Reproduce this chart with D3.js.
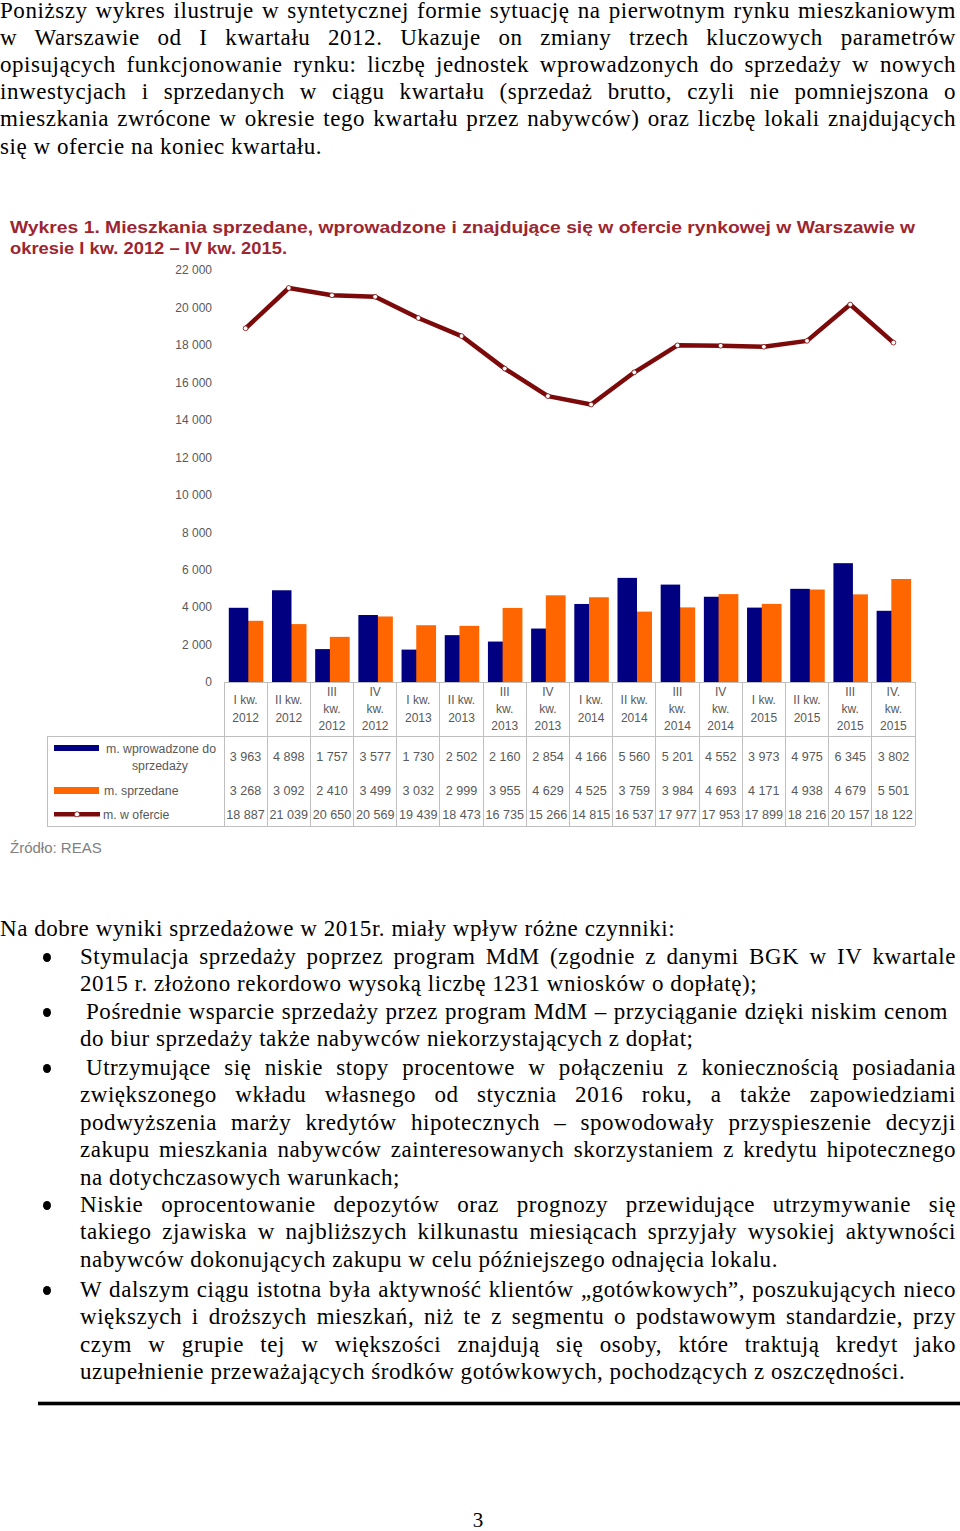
<!DOCTYPE html>
<html lang="pl">
<head>
<meta charset="utf-8">
<script src="https://cdn.jsdelivr.net/npm/d3@7"></script>
<style>
  html, body { margin: 0; padding: 0; background: #fff; }
  body { width: 960px; height: 1531px; position: relative; overflow: hidden; }
  #chart { position: absolute; left: 0; top: 0; }
  .ln { position: absolute; font-family: "Liberation Serif", "Times New Roman", serif; font-size: 23px;
        letter-spacing: 0.55px; line-height: 27px; height: 27px; color: #000; white-space: pre; }
  .ln.j { text-align: justify; text-align-last: justify; white-space: normal; }
  .bullet { position: absolute; width: 8px; height: 9px; border-radius: 50%; background: #000; }
</style>
</head>
<body>
<svg id="chart" width="960" height="1531"></svg>
<script>
// ---------------- DATA ----------------
const categories = ["I kw.\n2012","II kw.\n2012","III\nkw.\n2012","IV\nkw.\n2012",
                    "I kw.\n2013","II kw.\n2013","III\nkw.\n2013","IV\nkw.\n2013",
                    "I kw.\n2014","II kw.\n2014","III\nkw.\n2014","IV\nkw.\n2014",
                    "I kw.\n2015","II kw.\n2015","III\nkw.\n2015","IV.\nkw.\n2015"];
const introduced = [3963,4898,1757,3577,1730,2502,2160,2854,4166,5560,5201,4552,3973,4975,6345,3802];
const sold       = [3268,3092,2410,3499,3032,2999,3955,4629,4525,3759,3984,4693,4171,4938,4679,5501];
const offer      = [18887,21039,20650,20569,19439,18473,16735,15266,14815,16537,17977,17953,17899,18216,20157,18122];
const yTicks     = [0,2000,4000,6000,8000,10000,12000,14000,16000,18000,20000,22000];
const seriesNames = ["m. wprowadzone do\nsprzedaży", "m. sprzedane", "m. w ofercie"];
const titleLines = ["Wykres 1. Mieszkania sprzedane, wprowadzone i znajdujące się w ofercie rynkowej w Warszawie w",
                    "okresie I kw. 2012 – IV kw. 2015."];
const sourceText = "Źródło: REAS";

// ---------------- PAGE TEXT ----------------
const para1 = [
  "Poniższy wykres ilustruje w syntetycznej formie sytuację na pierwotnym rynku mieszkaniowym",
  "w Warszawie od I kwartału 2012. Ukazuje on zmiany trzech kluczowych parametrów",
  "opisujących funkcjonowanie rynku: liczbę jednostek wprowadzonych do sprzedaży w nowych",
  "inwestycjach i sprzedanych w ciągu kwartału (sprzedaż brutto, czyli nie pomniejszona o",
  "mieszkania zwrócone w okresie tego kwartału przez nabywców) oraz liczbę lokali znajdujących",
  "się w ofercie na koniec kwartału."
];
const intro2 = "Na dobre wyniki sprzedażowe w 2015r. miały wpływ różne czynniki:";
const bullets = [
  {y: 957, lines: ["Stymulacja sprzedaży poprzez program MdM (zgodnie z danymi BGK w IV kwartale",
                   "2015 r. złożono rekordowo wysoką liczbę 1231 wniosków o dopłatę);"]},
  {y: 1012, indent: 6, right: 948, lines: ["Pośrednie wsparcie sprzedaży przez program MdM – przyciąganie dzięki niskim cenom",
                   "do biur sprzedaży także nabywców niekorzystających z dopłat;"]},
  {y: 1068, indent: 6, lines: ["Utrzymujące się niskie stopy procentowe w połączeniu z koniecznością posiadania",
                   "zwiększonego wkładu własnego od stycznia 2016 roku, a także zapowiedziami",
                   "podwyższenia marży kredytów hipotecznych – spowodowały przyspieszenie decyzji",
                   "zakupu mieszkania nabywców zainteresowanych skorzystaniem z kredytu hipotecznego",
                   "na dotychczasowych warunkach;"]},
  {y: 1205, lines: ["Niskie oprocentowanie depozytów oraz prognozy przewidujące utrzymywanie się",
                   "takiego zjawiska w najbliższych kilkunastu miesiącach sprzyjały wysokiej aktywności",
                   "nabywców dokonujących zakupu w celu późniejszego odnajęcia lokalu."]},
  {y: 1290, lines: ["W dalszym ciągu istotna była aktywność klientów „gotówkowych”, poszukujących nieco",
                   "większych i droższych mieszkań, niż te z segmentu o podstawowym standardzie, przy",
                   "czym w grupie tej w większości znajdują się osoby, które traktują kredyt jako",
                   "uzupełnienie przeważających środków gotówkowych, pochodzących z oszczędności."]}
];

function addLine(text, x, yc, right, justify) {
  const d = document.createElement("div");
  d.className = "ln" + (justify ? " j" : "");
  d.textContent = text;
  d.style.left = x + "px";
  d.style.top = (yc - 14) + "px";
  if (justify) d.style.width = (right - x) + "px";
  document.body.appendChild(d);
}
para1.forEach((t, i) => addLine(t, 0, 11 + i * 27.1, 956, i < para1.length - 1));
addLine(intro2, 0, 929, 956, false);
bullets.forEach(b => {
  const dot = document.createElement("div");
  dot.className = "bullet";
  dot.style.left = "43px"; dot.style.top = (b.y - 4) + "px";
  document.body.appendChild(dot);
  b.lines.forEach((t, i) => {
    const x = (i === 0 && b.indent) ? 80 + b.indent : 80;
    const right = (i === 0 && b.right) ? b.right : 956;
    addLine(t, x, b.y + i * 27.45, right, i < b.lines.length - 1);
  });
});

// ---------------- CHART ----------------
const svg = d3.select("#chart");
const grey = "#595959";
const blue = "#000080", orange = "#ff6600", maroon = "#7d0a0a";
const fmt = d3.formatLocale({decimal: ",", thousands: " ", grouping: [3], currency: ["", ""]}).format(",d");

// title
const title = svg.append("g").attr("font-family", "'Liberation Sans Narrow','Arial Narrow','Liberation Sans',Arial,sans-serif")
  .attr("font-weight", "bold").attr("font-size", 17).attr("fill", "#9c2630");
title.append("text").attr("x", 10).attr("y", 233).attr("textLength", 905).attr("lengthAdjust", "spacingAndGlyphs").text(titleLines[0]);
title.append("text").attr("x", 10).attr("y", 254).attr("textLength", 277).attr("lengthAdjust", "spacingAndGlyphs").text(titleLines[1]);

const x = d3.scaleBand().domain(categories).range([224, 915]).padding(0);
const y = d3.scaleLinear().domain([0, 22000]).range([682, 270]);
const bw = x.bandwidth();

// y axis
const yAxis = svg.append("g").attr("transform", "translate(212,0)")
  .call(d3.axisLeft(y).tickValues(yTicks).tickFormat(fmt).tickSize(0).tickPadding(0));
yAxis.select(".domain").remove();
yAxis.selectAll("text").attr("font-family", "'Liberation Sans',Arial,sans-serif").attr("font-size", 12).attr("fill", grey);

// bars (taller bar drawn on top)
const barData = categories.map((c, i) => ({c, a: introduced[i], b: sold[i]}));
const groups = svg.append("g").selectAll("g").data(barData).join("g");
groups.each(function(d) {
  const g = d3.select(this);
  const bars = [
    {v: d.a, fill: blue, dx: 4.8, w: 19.5},
    {v: d.b, fill: orange, dx: 19.5, w: 19.8}
  ].sort((p, q) => p.v - q.v);
  g.selectAll("rect").data(bars).join("rect")
    .attr("x", b => x(d.c) + b.dx).attr("width", b => b.w)
    .attr("y", b => y(b.v)).attr("height", b => y(0) - y(b.v))
    .attr("fill", b => b.fill);
});

// line
const line = d3.line().x((d, i) => x(categories[i]) + bw / 2).y(d => y(d));
svg.append("path").datum(offer).attr("d", line).attr("fill", "none")
  .attr("stroke", maroon).attr("stroke-width", 4.5).attr("stroke-linejoin", "round");
svg.append("g").selectAll("circle").data(offer).join("circle")
  .attr("cx", (d, i) => x(categories[i]) + bw / 2).attr("cy", d => y(d)).attr("r", 2.4)
  .attr("fill", "#fff").attr("stroke", maroon).attr("stroke-width", 0.8);

// table grid
const tableTop = 682, headBottom = 736.7, tableBottom = 826, tableLeft = 47;
const gridC = "#bfbfbf";
const grid = svg.append("g").attr("stroke", gridC).attr("stroke-width", 1).attr("shape-rendering", "crispEdges");
const bounds = categories.map(c => x(c)).concat([x.range()[1]]);
grid.selectAll("line.v").data(bounds).join("line").attr("class", "v")
  .attr("x1", d => d).attr("x2", d => d).attr("y1", tableTop).attr("y2", tableBottom);
grid.append("line").attr("x1", x.range()[0]).attr("x2", x.range()[1]).attr("y1", tableTop).attr("y2", tableTop);
grid.append("line").attr("x1", tableLeft).attr("x2", x.range()[1]).attr("y1", headBottom).attr("y2", headBottom);
grid.append("line").attr("x1", tableLeft).attr("x2", x.range()[1]).attr("y1", tableBottom).attr("y2", tableBottom);
grid.append("line").attr("x1", tableLeft).attr("x2", tableLeft).attr("y1", headBottom).attr("y2", tableBottom);

// category labels
const catG = svg.append("g").attr("font-family", "'Liberation Sans',Arial,sans-serif").attr("font-size", 12)
  .attr("fill", grey).attr("text-anchor", "middle");
categories.forEach(c => {
  const parts = c.split("\n");
  const t = catG.append("text").attr("x", x(c) + bw / 2);
  parts.forEach((p, k) => {
    t.append("tspan").attr("x", x(c) + bw / 2)
      .attr("y", 709 + (k - (parts.length - 1) / 2) * 17.3 + 4).text(p);
  });
});

// data rows
const rows = [introduced, sold, offer];
const rowY = [756.7, 790, 814.3];
const valG = svg.append("g").attr("font-family", "'Liberation Sans',Arial,sans-serif").attr("font-size", 12.6)
  .attr("fill", grey).attr("text-anchor", "middle");
rows.forEach((r, ri) => {
  valG.selectAll("text.r" + ri).data(r).join("text").attr("class", "r" + ri)
    .attr("x", (d, i) => x(categories[i]) + bw / 2).attr("y", rowY[ri] + 4.5).text(d => fmt(d));
});

// legend inside table
const lg = svg.append("g").attr("font-family", "'Liberation Sans',Arial,sans-serif").attr("font-size", 12.3).attr("fill", grey);
lg.append("rect").attr("x", 54).attr("y", 745).attr("width", 45).attr("height", 6).attr("fill", blue);
lg.append("rect").attr("x", 54).attr("y", 787).attr("width", 45).attr("height", 7).attr("fill", orange);
lg.append("line").attr("x1", 54).attr("x2", 100).attr("y1", 814.3).attr("y2", 814.3).attr("stroke", maroon).attr("stroke-width", 4.5);
lg.append("circle").attr("cx", 77).attr("cy", 814.3).attr("r", 2.6).attr("fill", "#fff").attr("stroke", maroon).attr("stroke-width", 0.8);
const n0 = seriesNames[0].split("\n");
lg.append("text").attr("x", 161).attr("y", 752.5).attr("text-anchor", "middle").text(n0[0]);
lg.append("text").attr("x", 160).attr("y", 769.5).attr("text-anchor", "middle").text(n0[1]);
lg.append("text").attr("x", 104).attr("y", 794.5).text(seriesNames[1]);
lg.append("text").attr("x", 103).attr("y", 818.7).text(seriesNames[2]);

// source
svg.append("text").attr("x", 10).attr("y", 852.5).attr("font-family", "'Liberation Sans',Arial,sans-serif")
  .attr("font-size", 15).attr("fill", "#808080").text(sourceText);

// page rule and number
svg.append("rect").attr("x", 38).attr("y", 1401.7).attr("width", 922).attr("height", 3.6).attr("fill", "#000");
svg.append("text").attr("x", 478).attr("y", 1527).attr("text-anchor", "middle")
  .attr("font-family", "'Liberation Serif',serif").attr("font-size", 21).text("3");
</script>
</body>
</html>
